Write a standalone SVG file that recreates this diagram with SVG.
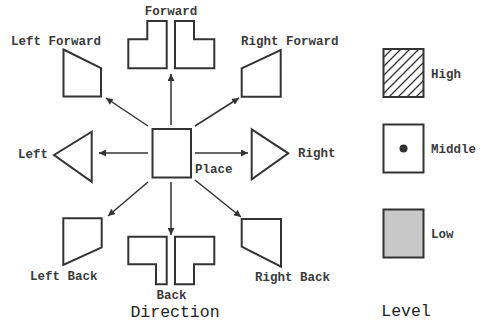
<svg xmlns="http://www.w3.org/2000/svg" width="482" height="323" viewBox="0 0 482 323">
  <style>
    .shape { fill: #ffffff; stroke: #333333; stroke-width: 2; stroke-linejoin: miter; }
    .lbl { font-family: "Liberation Mono", "Courier New", monospace; font-size: 12.5px; font-weight: bold; fill: #3a3a3a; }
    .title { font-family: "Liberation Mono", "Courier New", monospace; font-size: 16.5px; fill: #222222; }
    .conn { stroke: #333333; stroke-width: 1.5; fill: none; marker-end: url(#arrow); }
  </style>
  <defs>
    <marker id="arrow" viewBox="0 0 10 10" refX="10" refY="5" markerWidth="7" markerHeight="7" markerUnits="userSpaceOnUse" orient="auto">
      <path d="M0,0 L10,5 L0,10 Z" fill="#333333"/>
    </marker>
    <pattern id="hatch" patternUnits="userSpaceOnUse" width="9" height="9">
      <path d="M-1,10 L10,-1 M-3,3 L3,-3 M6,12 L12,6" stroke="#333333" stroke-width="1.3"/>
    </pattern>
  </defs>

  <rect width="482" height="323" fill="#ffffff"/>

  <!-- connectors from Place -->
  <g id="connectors">
    <line class="conn" x1="171" y1="125" x2="171" y2="74"/>
    <line class="conn" x1="171" y1="182" x2="171" y2="235"/>
    <line class="conn" x1="148" y1="153" x2="99" y2="153"/>
    <line class="conn" x1="195" y1="153" x2="248" y2="153"/>
    <line class="conn" x1="148" y1="126" x2="106" y2="98"/>
    <line class="conn" x1="195" y1="126" x2="239" y2="98"/>
    <line class="conn" x1="148" y1="182" x2="108" y2="216"/>
    <line class="conn" x1="195" y1="180" x2="241" y2="217"/>
  </g>

  <g id="place">
    <rect class="shape" x="152.5" y="129" width="38.5" height="48.5"/>
    <text class="lbl" x="195" y="173">Place</text>
  </g>

  <g id="forward">
    <polygon class="shape" points="147.3,21 166.7,21 166.7,68.3 128.3,68.3 128.3,39.3 147.3,39.3"/>
    <polygon class="shape" points="175,21 194,21 194,39.3 214.3,39.3 214.3,68.3 175,68.3"/>
    <text class="lbl" x="171" y="15" text-anchor="middle">Forward</text>
  </g>

  <g id="left-forward">
    <polygon class="shape" points="63.5,49.5 101,68 101,96.5 63.5,96.5"/>
    <text class="lbl" x="11" y="45">Left Forward</text>
  </g>

  <g id="right-forward">
    <polygon class="shape" points="241.7,68.3 280.7,50 280.7,96.7 241.7,96.7"/>
    <text class="lbl" x="241" y="45">Right Forward</text>
  </g>

  <g id="left">
    <polygon class="shape" points="54,155 91.7,131.7 91.7,181.7"/>
    <text class="lbl" x="18" y="158">Left</text>
  </g>

  <g id="right">
    <polygon class="shape" points="251.7,129.3 288.3,153.3 251.7,179.3"/>
    <text class="lbl" x="298" y="157">Right</text>
  </g>

  <g id="left-back">
    <polygon class="shape" points="63.3,218.3 101.7,218.3 101.7,247.3 63.3,265"/>
    <text class="lbl" x="30" y="280">Left Back</text>
  </g>

  <g id="back">
    <polygon class="shape" points="128.3,236.7 166.7,236.7 166.7,284.3 156,284.3 156,264.3 128.3,264.3"/>
    <polygon class="shape" points="175,236.7 214.3,236.7 214.3,264.3 194,264.3 194,284.3 175,284.3"/>
    <text class="lbl" x="171.5" y="299" text-anchor="middle">Back</text>
  </g>

  <g id="right-back">
    <polygon class="shape" points="241.7,219 281,219 281,266.7 241.7,246.7"/>
    <text class="lbl" x="255" y="281">Right Back</text>
  </g>

  <text class="title" x="175" y="317" text-anchor="middle">Direction</text>

  <!-- level legend -->
  <g id="level-high">
    <rect x="383.5" y="49" width="40" height="48" fill="url(#hatch)" stroke="#333333" stroke-width="2"/>
    <text class="lbl" x="431" y="78">High</text>
  </g>
  <g id="level-middle">
    <rect class="shape" x="383.5" y="124.5" width="40" height="48"/>
    <circle cx="403.5" cy="148.5" r="4" fill="#333333"/>
    <text class="lbl" x="431" y="153">Middle</text>
  </g>
  <g id="level-low">
    <rect x="383.5" y="209.5" width="40" height="48" fill="#c8c8c8" stroke="#333333" stroke-width="2"/>
    <text class="lbl" x="431" y="238">Low</text>
  </g>
  <text class="title" x="406" y="316" text-anchor="middle">Level</text>
</svg>
